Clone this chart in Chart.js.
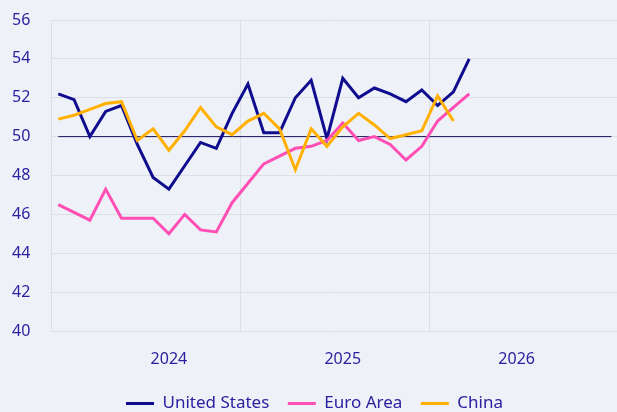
<!DOCTYPE html>
<html>
<head>
<meta charset="utf-8">
<script src="https://cdn.jsdelivr.net/npm/chart.js@4.4.1/dist/chart.umd.min.js"></script>
<style>
    html, body { margin: 0; padding: 0; background: #eef2f8; }
    canvas { display: block; }
</style>
</head>
<body>
<canvas id="pmiChart" width="617" height="412"></canvas>
<script>
// monthly readings, Feb 2024 onwards
const months = [
    "2024-02", "2024-03", "2024-04", "2024-05", "2024-06", "2024-07", "2024-08",
    "2024-09", "2024-10", "2024-11", "2024-12", "2025-01", "2025-02", "2025-03",
    "2025-04", "2025-05", "2025-06", "2025-07", "2025-08", "2025-09", "2025-10",
    "2025-11", "2025-12", "2026-01", "2026-02", "2026-03", "2026-04"
];
const unitedStates = [52.2, 51.9, 50.0, 51.3, 51.6, 49.6, 47.9, 47.3, 48.5, 49.7, 49.4, 51.2, 52.7, 50.2,
    50.2, 52.0, 52.9, 49.9, 53.0, 52.0, 52.5, 52.2, 51.8, 52.4, 51.6, 52.3, 54.0];
const euroArea = [46.5, 46.1, 45.7, 47.3, 45.8, 45.8, 45.8, 45.0, 46.0, 45.2, 45.1, 46.6, 47.6, 48.6,
    49.0, 49.4, 49.5, 49.8, 50.7, 49.8, 50.0, 49.6, 48.8, 49.5, 50.8, 51.5, 52.2];
const china = [50.9, 51.1, 51.4, 51.7, 51.8, 49.8, 50.4, 49.3, 50.3, 51.5, 50.5, 50.1, 50.8, 51.2,
    50.4, 48.3, 50.4, 49.5, 50.5, 51.2, 50.6, 49.9, 50.1, 50.3, 52.1, 50.8];

// axis setup (x is month index)
const yearTicks = [7, 18, 29];
const yearLabels = ["2024", "2025", "2026"];
const yearBreaks = [11.5, 23.5];
const xRange = [-0.46, 35.35];
const yRange = [40, 56];
const refLevel = 50;
const refSpan = [0, 35];

const textColor = "#2a21a0";
const gridColor = "#dcdfe6";
const font = { family: "'Noto Sans', sans-serif", size: 16 };

function toPoints(values) {
    return values.map((v, i) => ({ x: i, y: v }));
}

const series = (label, values, color, order) => ({
    label: label,
    data: toPoints(values),
    borderColor: color,
    backgroundColor: color,
    borderWidth: 3,
    pointRadius: 0,
    tension: 0,
    fill: false,
    order: order
});

new Chart(document.getElementById("pmiChart"), {
    type: "line",
    data: {
        datasets: [
            series("United States", unitedStates, "#100c8f", 3),
            series("Euro Area", euroArea, "#ff4fb4", 2),
            series("China", china, "#ffb000", 1),
            {
                label: "",
                data: refSpan.map(x => ({ x: x, y: refLevel })),
                borderColor: "#14125a",
                borderWidth: 1,
                pointRadius: 0,
                fill: false,
                order: 10
            }
        ]
    },
    options: {
        responsive: false,
        animation: false,
        layout: { padding: { top: 20, right: 0, bottom: -10, left: 12 } },
        plugins: {
            tooltip: { enabled: false },
            legend: {
                position: "bottom",
                labels: {
                    usePointStyle: true,
                    pointStyle: "line",
                    pointStyleWidth: 28,
                    padding: 18.5,
                    color: textColor,
                    font: { family: font.family, size: 17 },
                    filter: item => item.text !== "",
                    sort: (a, b) => a.datasetIndex - b.datasetIndex
                }
            }
        },
        scales: {
            x: {
                type: "linear",
                min: xRange[0],
                max: xRange[1],
                afterBuildTicks: axis => {
                    axis.ticks = yearTicks.concat(yearBreaks)
                        .sort((a, b) => a - b)
                        .map(v => ({ value: v }));
                },
                ticks: {
                    autoSkip: false,
                    maxRotation: 0,
                    padding: 19,
                    color: textColor,
                    font: font,
                    callback: v => {
                        const i = yearTicks.indexOf(v);
                        return i >= 0 ? yearLabels[i] : "";
                    }
                },
                grid: {
                    drawTicks: false,
                    color: ctx => (ctx.tick && yearBreaks.includes(ctx.tick.value)) ? gridColor : "rgba(0,0,0,0)"
                },
                border: { display: false },
                afterFit: axis => { axis.height = 45.5; }
            },
            y: {
                min: yRange[0],
                max: yRange[1],
                ticks: { stepSize: 2, padding: 0, crossAlign: "far", color: textColor, font: font },
                grid: { color: gridColor, drawTicks: false },
                border: { color: gridColor },
                afterFit: axis => { axis.width = 39; }
            }
        }
    }
});
</script>
</body>
</html>
